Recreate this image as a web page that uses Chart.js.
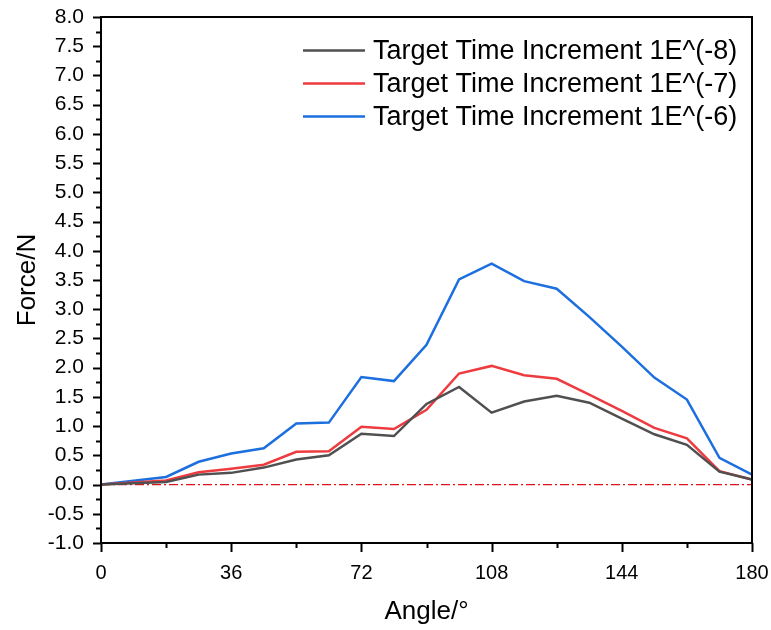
<!DOCTYPE html>
<html>
<head>
<meta charset="utf-8">
<script src="https://cdn.jsdelivr.net/npm/chart.js@4/dist/chart.umd.min.js"></script>
<style>
  body { margin: 0; background: #fff; }
  #wrap { width: 771px; height: 630px; }
</style>
</head>
<body>
<div id="wrap"><canvas id="chart" width="771" height="630"></canvas></div>
<script>
// angle values (degrees)
const angles = [0, 18, 27, 36, 45, 54, 63, 72, 81, 90, 99, 108, 117, 126, 135, 144, 153, 162, 171, 180];

// force values (N) for each target time increment
const force1e8 = [0, 0.045, 0.17, 0.2, 0.29, 0.43, 0.50, 0.87, 0.83, 1.38, 1.67, 1.23, 1.42, 1.52, 1.40, 1.13, 0.86, 0.68, 0.22, 0.085];
const force1e7 = [0, 0.07, 0.21, 0.27, 0.34, 0.56, 0.57, 0.99, 0.95, 1.28, 1.90, 2.03, 1.87, 1.81, 1.54, 1.26, 0.97, 0.79, 0.23, 0.085];
const force1e6 = [0, 0.13, 0.39, 0.53, 0.62, 1.045, 1.06, 1.84, 1.77, 2.39, 3.51, 3.78, 3.48, 3.35, 2.87, 2.36, 1.83, 1.455, 0.457, 0.17];

const seriesLabels = ['Target Time Increment 1E^(-8)', 'Target Time Increment 1E^(-7)', 'Target Time Increment 1E^(-6)'];
const xTicks = [0, 36, 72, 108, 144, 180];

const FONT = '"Liberation Sans", Arial, sans-serif';

const toPoints = (ys) => ys.map((y, i) => ({ x: angles[i], y }));

const noEdgePadding = (scale) => {
  scale.paddingLeft = 0;
  scale.paddingRight = 0;
  scale.paddingTop = 0;
  scale.paddingBottom = 0;
};

// axis frame, tick marks, zero reference line and the legend
const framePlugin = {
  id: 'frame',
  beforeDatasetsDraw(chart) {
    const { ctx, chartArea, scales } = chart;
    const y0 = scales.y.getPixelForValue(0);
    ctx.save();
    ctx.strokeStyle = '#e0141c';
    ctx.lineWidth = 1.2;
    ctx.setLineDash([9, 3, 2, 3]);
    ctx.beginPath();
    ctx.moveTo(chartArea.left, y0);
    ctx.lineTo(chartArea.right, y0);
    ctx.stroke();
    ctx.restore();
  },
  afterDraw(chart) {
    const { ctx, chartArea, scales } = chart;
    const { left, right, top, bottom } = chartArea;
    ctx.save();
    ctx.strokeStyle = '#000';
    ctx.lineWidth = 2;
    ctx.strokeRect(left, top, right - left, bottom - top);

    // y ticks (major every 0.5, minor every 0.25)
    for (let i = 0; i <= 36; i++) {
      const v = -1 + i * 0.25;
      const py = Math.round(scales.y.getPixelForValue(v)) + 0.5;
      const len = i % 2 === 0 ? 8 : 5;
      ctx.beginPath();
      ctx.moveTo(left, py);
      ctx.lineTo(left - len, py);
      ctx.stroke();
    }
    // x ticks (major every 36, minor every 18)
    for (let i = 0; i <= 10; i++) {
      const px = Math.round(scales.x.getPixelForValue(i * 18)) + 0.5;
      const len = i % 2 === 0 ? 9 : 5;
      ctx.beginPath();
      ctx.moveTo(px, bottom);
      ctx.lineTo(px, bottom + len);
      ctx.stroke();
    }

    // legend
    ctx.font = '27px ' + FONT;
    ctx.textBaseline = 'middle';
    ctx.fillStyle = '#000';
    chart.data.datasets.forEach((ds, i) => {
      const ly = 50.5 + i * 33;
      ctx.strokeStyle = ds.borderColor;
      ctx.lineWidth = 2.5;
      ctx.beginPath();
      ctx.moveTo(303, ly);
      ctx.lineTo(365, ly);
      ctx.stroke();
      ctx.fillText(ds.label, 373, ly + 1);
    });
    ctx.restore();
  }
};

const makeSet = (label, data, color) => ({
  label,
  data: toPoints(data),
  borderColor: color,
  backgroundColor: color,
  borderWidth: 2.5,
  pointRadius: 0,
  tension: 0,
  fill: false
});

new Chart(document.getElementById('chart').getContext('2d'), {
  type: 'line',
  data: {
    datasets: [
      makeSet(seriesLabels[0], force1e8, '#505050'),
      makeSet(seriesLabels[1], force1e7, '#ee3b3f'),
      makeSet(seriesLabels[2], force1e6, '#1c6fdf')
    ]
  },
  options: {
    responsive: false,
    animation: false,
    layout: { padding: { top: 17, right: 19, left: 0, bottom: 0 } },
    plugins: {
      legend: { display: false },
      tooltip: { enabled: false }
    },
    scales: {
      x: {
        type: 'linear',
        min: 0,
        max: 180,
        afterFit: (scale) => { scale.height = 87; noEdgePadding(scale); },
        afterBuildTicks: (scale) => { scale.ticks = xTicks.map(v => ({ value: v })); },
        grid: { display: false, drawTicks: false },
        border: { display: false },
        ticks: {
          padding: 18,
          color: '#000',
          font: { family: FONT, size: 20 },
          maxRotation: 0
        },
        title: {
          display: true,
          text: 'Angle/°',
          color: '#000',
          font: { family: FONT, size: 26 },
          padding: { top: 0, bottom: 3 }
        }
      },
      y: {
        min: -1,
        max: 8,
        afterFit: (scale) => { scale.width = 101; noEdgePadding(scale); },
        grid: { display: false, drawTicks: false },
        border: { display: false },
        ticks: {
          stepSize: 0.5,
          padding: 17,
          color: '#000',
          font: { family: FONT, size: 21 },
          callback: (v) => v.toFixed(1)
        },
        title: {
          display: true,
          text: 'Force/N',
          color: '#000',
          font: { family: FONT, size: 26 },
          padding: { top: 12, bottom: 0 }
        }
      }
    }
  },
  plugins: [framePlugin]
});
</script>
</body>
</html>
